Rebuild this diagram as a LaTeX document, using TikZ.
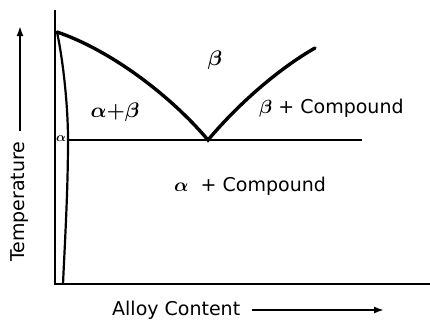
\RequirePackage{fix-cm}
\documentclass[tikz,border=0pt]{standalone}
\usepackage{fontspec}
\setmainfont{DejaVu Sans}
\usetikzlibrary{arrows.meta}
\begin{document}
\begin{tikzpicture}[x=1pt,y=-1pt,
  lbl/.style={inner sep=0pt,font=\fontsize{19}{22}\selectfont\boldmath},
  glbl/.style={inner sep=0pt,font=\fontsize{21}{24}\selectfont\boldmath},
  axisline/.style={line width=2.6pt},
  phase/.style={line width=3.4pt},
  thin/.style={line width=2.2pt},
  axarrow/.style={line width=1.8pt,-{Latex[length=10pt,width=7pt]}}]
\useasboundingbox (0,0) rectangle (430,325);
\fill[white] (0,0) rectangle (430,325);
% axes
\coordinate (top) at (55,10);
\coordinate (orig) at (55,284);
\coordinate (xend) at (430,284);
\draw[axisline] (top) -- (orig) -- (xend);
% key points
\coordinate (A) at (57,32);
\coordinate (E) at (208,140);
\coordinate (L) at (315,48);
\coordinate (S) at (68,140);
\coordinate (Sb) at (63,284);
\coordinate (R) at (362,140);
% liquidus
\draw[phase,line cap=round] (A) .. controls (110,50) and (170,95) .. (E)
   .. controls (240,102) and (280,68) .. (L);
% solvus
\draw[thin] (A) .. controls (63,60) and (68,105) .. (S)
   .. controls (68,190) and (65,240) .. (Sb);
% eutectic line
\draw[axisline] (S) -- (R);
% labels
\node[glbl] (b) at (215,60) {$\beta$};
\node[glbl] (ab) at (115,112) {$\alpha{+}\beta$};
\node[lbl,anchor=west] (bc) at (259,108) {$\beta$ + Compound};
\node[lbl,anchor=west] (ac) at (174,186) {$\alpha$ \ + Compound};
\node[inner sep=0pt,font=\fontsize{13}{14}\selectfont\boldmath] (sa) at (61,139) {$\alpha$};
% axis titles
\node[lbl,rotate=90,anchor=west] (T) at (20,262) {Temperature};
\coordinate (Tt) at (20,26);
\draw[axarrow] (20,131) -- (Tt);
\node[lbl,anchor=west] (C) at (112,310) {Alloy Content};
\coordinate (Ct) at (384,310);
\draw[axarrow] (252,310) -- (Ct);
\end{tikzpicture}
\end{document}
